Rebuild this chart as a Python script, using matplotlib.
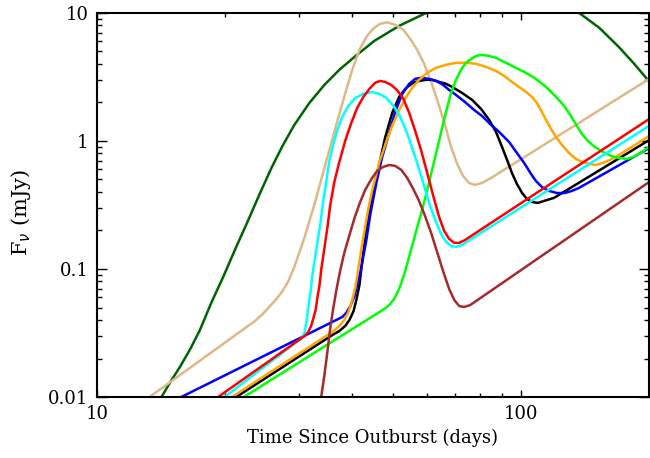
import matplotlib
matplotlib.use("Agg")
import matplotlib.pyplot as plt
from matplotlib.ticker import NullFormatter, LogLocator

plt.rcParams['font.family'] = ['DejaVu Serif']

# light curves (days, mJy)
dkgreen_t = [14.2, 14.9, 15.7, 16.6, 17.5, 18.6, 19.9, 21.2, 22.7, 24.2, 25.8, 27.4, 29.2, 31.7, 34.4, 37.3, 40.5, 45.1, 51.6, 59.8,
             69.6, 81.8, 96.3, 113, 126, 137, 153, 170, 184, 199]
dkgreen_f = [0.01, 0.0131, 0.0172, 0.0237, 0.0334, 0.0542, 0.0882, 0.143, 0.237, 0.385, 0.615, 0.914, 1.33, 1.98, 2.74, 3.59, 4.53, 6.04, 7.91, 10,
             12, 13.6, 14.1, 13.3, 11.8, 10, 7.63, 5.42, 4.07, 3.0]

tan_t = [13.3, 23.6, 24.6, 25.5, 26.5, 27.4, 28.3, 29.2, 30.0, 30.9, 31.7, 32.6, 34.4, 36.3, 38.3, 40.0, 41.6, 43.2, 44.8, 46.5,
         48.4, 50.5, 52.8, 54.8, 56.9, 59.1, 61.4, 64.1, 66.3, 68.4, 70.7, 73.0, 75.4, 77.9, 80.9, 85.0, 199]
tan_f = [0.01, 0.0393, 0.0445, 0.0505, 0.0583, 0.0673, 0.0806, 0.1036, 0.1334, 0.178, 0.237, 0.322, 0.615, 1.176, 2.207, 3.59, 5.14, 6.49, 7.50, 8.21,
         8.43, 8.06, 7.37, 6.27, 5.14, 4.0, 2.89, 1.88, 1.31, 0.898, 0.661, 0.533, 0.47, 0.453, 0.47, 0.514, 3.0]

black_t = [21.3, 35.9, 37.3, 38.5, 39.4, 40.3, 40.9, 41.6, 42.0, 42.5, 43.2, 43.9, 44.8, 46.3, 47.8, 49.7, 51.6, 53.6, 55.7, 57.5,
           59.8, 61.7, 64.1, 66.6, 68.8, 72.6, 76.7, 80.5, 84.1, 87.3, 90.2, 92.7, 95.2, 97.8, 100.6, 103.3, 106.1, 109.6, 113.3, 119.6, 199]
black_f = [0.01, 0.0305, 0.0328, 0.0359, 0.040, 0.047, 0.0573, 0.075, 0.0982, 0.136, 0.202, 0.289, 0.414, 0.649, 1.055, 1.655, 2.207, 2.594, 2.84, 2.94,
           3.0, 3.0, 2.89, 2.79, 2.64, 2.37, 2.09, 1.778, 1.459, 1.176, 0.898, 0.711, 0.562, 0.461, 0.392, 0.352, 0.334, 0.328, 0.34, 0.359, 1.0]

blue_t = [15.8, 37.9, 38.7, 39.6, 40.5, 41.1, 41.8, 42.5, 43.2, 44.1, 45.6, 47.0, 48.9, 50.5, 52.5, 54.5, 56.3, 58.2, 60.7, 63.1,
          65.5, 67.7, 70.7, 74.2, 77.5, 80.9, 84.5, 88.8, 93.7, 97.8, 101.7, 105.6, 108.4, 112.0, 116.4, 121.6, 126.9, 131.8, 136.9, 199]
blue_f = [0.01, 0.0422, 0.0453, 0.0514, 0.0615, 0.075, 0.0947, 0.1264, 0.169, 0.264, 0.47, 0.736, 1.155, 1.685, 2.33, 2.79, 3.05, 3.11, 3.05, 2.94,
          2.74, 2.50, 2.25, 1.98, 1.746, 1.567, 1.358, 1.176, 0.982, 0.806, 0.673, 0.552, 0.487, 0.437, 0.407, 0.392, 0.392, 0.407, 0.429, 0.866]

orange_t = [20.8, 35.9, 37.3, 38.3, 39.2, 40.0, 40.7, 41.3, 42.0, 42.7, 43.6, 44.6, 46.3, 48.1, 49.7, 51.6, 53.6, 55.4, 57.5, 60.1,
            63.1, 66.6, 70.3, 74.2, 78.4, 82.7, 87.3, 91.2, 95.2, 98.9, 102.8, 106.1, 109.0, 112.0, 114.5, 117.7, 120.9, 124.9, 129.7, 134.7,
            139.2, 144.5, 150.2, 155.9, 162.1, 167.3, 199]
orange_f = [0.01, 0.0322, 0.0359, 0.040, 0.0461, 0.0573, 0.0723, 0.0982, 0.1407, 0.1945, 0.289, 0.414, 0.673, 0.982, 1.31, 1.746, 2.207, 2.594, 3.0, 3.40,
            3.72, 3.93, 4.07, 4.07, 4.0, 3.785, 3.52, 3.22, 2.89, 2.64, 2.41, 2.207, 1.98, 1.685, 1.459, 1.241, 1.075, 0.931, 0.806, 0.723,
            0.686, 0.661, 0.649, 0.673, 0.711, 0.750, 1.075]

green_t = [22.2, 47.6, 48.9, 50.2, 51.6, 52.8, 53.9, 55.1, 56.6, 58.2, 60.1, 62.1, 64.1, 66.3, 68.4, 70.3, 72.2, 74.2, 76.3, 78.4,
           80.9, 84.1, 87.3, 91.2, 96.3, 102.8, 108.4, 114.5, 120.9, 126.3, 131.1, 135.4, 139.2, 143.7, 149.3, 155.9, 163.0, 170.1, 177.7, 184,
           191.2, 199]
green_f = [0.01, 0.0487, 0.0523, 0.0583, 0.0698, 0.0866, 0.1094, 0.143, 0.198, 0.274, 0.414, 0.649, 1.0, 1.6, 2.37, 3.0, 3.59, 4.07, 4.37, 4.61,
           4.70, 4.61, 4.45, 4.14, 3.785, 3.40, 3.05, 2.64, 2.207, 1.88, 1.567, 1.31, 1.134, 1.0, 0.898, 0.821, 0.763, 0.736, 0.723, 0.750,
           0.806, 0.881]

red_t = [19.3, 30.9, 31.5, 32.0, 32.4, 32.8, 33.1, 33.5, 33.8, 34.4, 35.0, 35.5, 36.3, 37.3, 38.5, 39.8, 41.1, 42.5, 43.9, 45.3,
         46.5, 47.8, 49.4, 51.0, 52.8, 54.5, 56.3, 58.2, 60.1, 62.1, 64.1, 65.9, 67.7, 69.6, 71.5, 73.8, 199]
red_f = [0.01, 0.030, 0.0322, 0.0359, 0.0414, 0.0478, 0.0594, 0.075, 0.0982, 0.1459, 0.2168, 0.316, 0.478, 0.686, 1.0, 1.382, 1.811, 2.207, 2.548, 2.84,
         2.94, 2.89, 2.74, 2.50, 2.13, 1.655, 1.197, 0.835, 0.562, 0.372, 0.255, 0.198, 0.1716, 0.16, 0.16, 0.1685, 1.459]

cyan_t = [20, 30, 30.5, 30.9, 31.2, 31.5, 31.9, 32.2, 32.6, 33.1, 33.7, 34.2, 34.8, 35.3, 36.1, 36.9, 37.9, 39.2, 40.7, 42.5,
          44.4, 46.3, 48.1, 50, 51.6, 53.3, 55.1, 56.9, 58.8, 60.7, 62.8, 64.8, 66.6, 68.4, 70.3, 72.6, 199]
cyan_f = [0.01, 0.0279, 0.0294, 0.0322, 0.0385, 0.0496, 0.0661, 0.0882, 0.115, 0.16, 0.233, 0.346, 0.496, 0.685, 0.947, 1.22, 1.54, 1.88, 2.17, 2.33,
          2.41, 2.33, 2.17, 1.88, 1.6, 1.26, 0.931, 0.673, 0.47, 0.328, 0.241, 0.188, 0.163, 0.151, 0.149, 0.154, 1.29]

brown_t = [33.8, 34.4, 35, 35.5, 36.1, 36.7, 37.5, 38.3, 39.4, 40.5, 41.6, 42.9, 44.4, 45.8, 47.3, 48.9, 50.5, 52.2, 53.9, 55.7,
           57.5, 59.4, 61.4, 63.4, 65.5, 67.7, 69.6, 71.5, 73.4, 75.9, 199]
brown_f = [0.01, 0.0149, 0.0233, 0.0346, 0.0496, 0.0685, 0.0982, 0.133, 0.184, 0.25, 0.322, 0.414, 0.505, 0.583, 0.626, 0.649, 0.638, 0.594, 0.514, 0.422,
           0.34, 0.259, 0.191, 0.136, 0.0965, 0.0698, 0.0573, 0.0514, 0.0505, 0.0523, 0.47]

fig = plt.figure(figsize=(6.5, 4.58), dpi=100)
ax = fig.add_axes([0.149, 0.133, 0.849, 0.839])

lw = 1.8
ax.plot(dkgreen_t, dkgreen_f, color='#006400', lw=lw)
ax.plot(tan_t, tan_f, color='#DEB887', lw=lw)
ax.plot(black_t, black_f, color='black', lw=lw)
ax.plot(blue_t, blue_f, color='#0000FF', lw=lw)
ax.plot(orange_t, orange_f, color='#FFA500', lw=lw)
ax.plot(green_t, green_f, color='#00FF00', lw=lw)
ax.plot(brown_t, brown_f, color='#A52A2A', lw=lw)
ax.plot(cyan_t, cyan_f, color='#00FFFF', lw=lw)
ax.plot(red_t, red_f, color='#FF0000', lw=lw)

ax.set_xscale('log')
ax.set_yscale('log')
ax.set_xlim(10, 200)
ax.set_ylim(0.01, 10)

ax.set_xticks([10, 100])
ax.set_xticklabels(['10', '100'])
ax.set_yticks([0.01, 0.1, 1, 10])
ax.set_yticklabels(['0.01', '0.1', '1', '10'])
ax.xaxis.set_minor_locator(LogLocator(base=10, subs=range(2, 10)))
ax.yaxis.set_minor_locator(LogLocator(base=10, subs=range(2, 10)))
ax.xaxis.set_minor_formatter(NullFormatter())
ax.yaxis.set_minor_formatter(NullFormatter())

ax.tick_params(which='both', direction='in', top=True, right=True, width=1.0, labelsize=13)
ax.tick_params(axis='x', which='major', length=5, pad=6)
ax.tick_params(axis='x', which='minor', length=3)
ax.tick_params(axis='y', which='major', length=7, pad=6)
ax.tick_params(axis='y', which='minor', length=3.5)
for s in ax.spines.values():
    s.set_linewidth(1.5)

ax.set_xlabel('Time Since Outburst (days)', fontsize=13, labelpad=4)
ax.set_ylabel(r'F$_\nu$ (mJy)', fontsize=15)
ax.yaxis.set_label_coords(-0.115, 0.48)

fig.savefig('out.png', dpi=100)
